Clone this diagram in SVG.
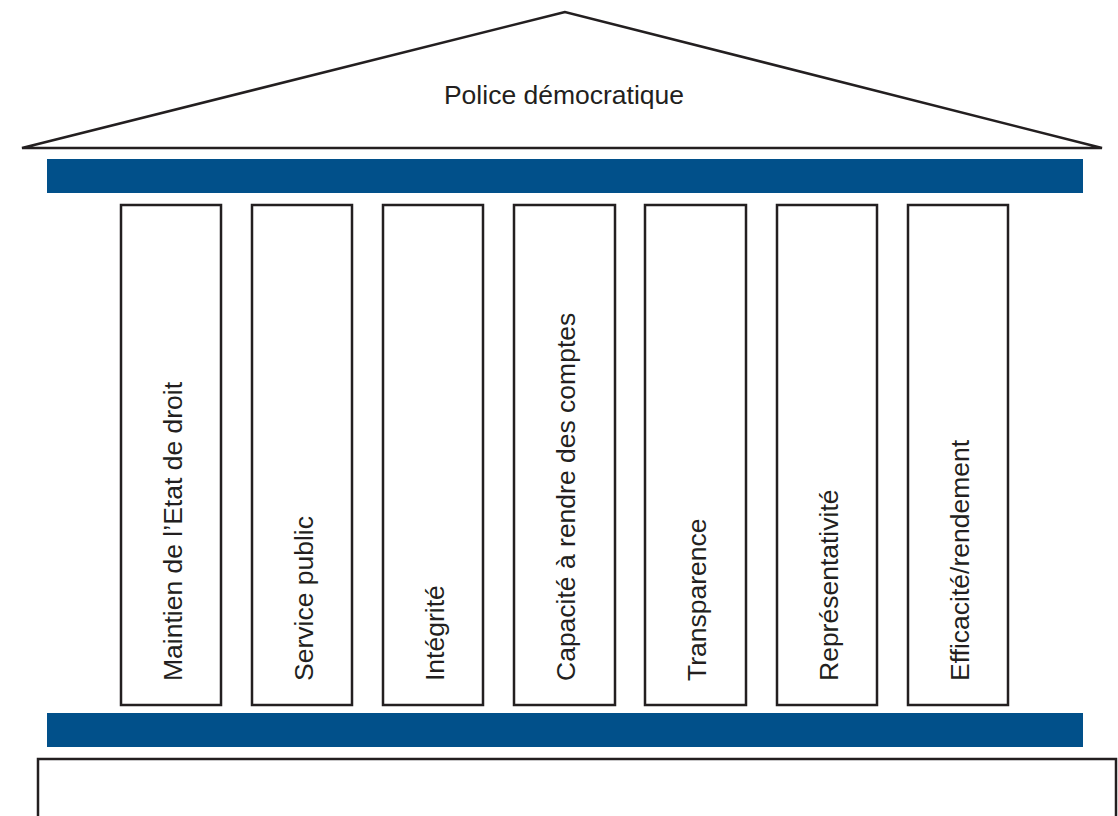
<svg xmlns="http://www.w3.org/2000/svg" width="1118" height="816" viewBox="0 0 1118 816">
<style>
.ln{fill:#fff;stroke:#231f20;stroke-width:2.5}
.bar{fill:#01508a}
.t{font-family:"Liberation Sans",Arial,sans-serif;font-size:26.5px;fill:#231f20}
</style>
<rect width="1118" height="816" fill="#fff"/>
<g id="roof">
<polygon class="ln" points="565,12 22,148 1102,148" stroke-linejoin="miter"/>
<text class="t" x="564" y="104" text-anchor="middle">Police démocratique</text>
</g>
<rect id="top-bar" class="bar" x="47" y="159" width="1036" height="34"/>
<g id="col1"><rect class="ln" x="121" y="205" width="100" height="500"/><text class="t" transform="translate(182,681) rotate(-90)">Maintien de l’Etat de droit</text></g>
<g id="col2"><rect class="ln" x="252" y="205" width="100" height="500"/><text class="t" transform="translate(313,681) rotate(-90)">Service public</text></g>
<g id="col3"><rect class="ln" x="383" y="205" width="100" height="500"/><text class="t" transform="translate(444,681) rotate(-90)">Intégrité</text></g>
<g id="col4"><rect class="ln" x="514" y="205" width="101" height="500"/><text class="t" transform="translate(575,681) rotate(-90)">Capacité à rendre des comptes</text></g>
<g id="col5"><rect class="ln" x="645" y="205" width="101" height="500"/><text class="t" transform="translate(706,681) rotate(-90)">Transparence</text></g>
<g id="col6"><rect class="ln" x="777" y="205" width="100" height="500"/><text class="t" transform="translate(838,681) rotate(-90)">Représentativité</text></g>
<g id="col7"><rect class="ln" x="908" y="205" width="100" height="500"/><text class="t" transform="translate(969,681) rotate(-90)">Efficacité/rendement</text></g>
<rect id="bottom-bar" class="bar" x="47" y="713" width="1036" height="34"/>
<g id="base"><rect class="ln" x="38" y="759" width="1078" height="80"/></g>
<g id="connectors"/>
</svg>
